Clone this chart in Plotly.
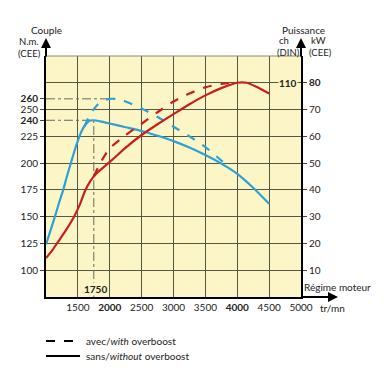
import numpy as np
import plotly.graph_objects as go

# ---- data ----
rpm_torque_without = [1000, 1070, 1140, 1200, 1270, 1330, 1390, 1450, 1500, 1560, 1620, 1680, 1750,
                      1850, 2000, 2250, 2500, 2750, 3000, 3250, 3500, 3750, 4000, 4250, 4500]
torque_without = [124, 137, 150, 162, 175, 188, 200, 212, 221, 230, 236, 239.5, 240,
                  239, 237, 233.5, 230, 225.5, 220.5, 214.5, 207.5, 199.5, 190, 177, 162]

rpm_torque_with = [1600, 1700, 1800, 1900, 2000, 2100, 2250, 2500, 2750, 3000, 3250, 3500, 3700, 3850]
torque_with = [234, 246, 254, 258.5, 260, 259.8, 257.5, 251, 243, 234, 225, 215, 205, 197]

rpm_power_without = [1000, 1100, 1200, 1300, 1440, 1530, 1610, 1700, 1800, 1900, 2050, 2250, 2500,
                     2750, 3000, 3250, 3500, 3750, 4000, 4150, 4300, 4500]
power_without = [14.5, 17.5, 21, 24.5, 30, 34.5, 39.5, 43.5, 46.3, 48.4, 51.5, 55.8, 60.5,
                 64.5, 68.3, 72, 75.3, 78, 80, 80, 78.5, 76]

rpm_power_with = [1750, 1850, 2000, 2250, 2500, 2750, 3000, 3250, 3500, 3750, 4000]
power_with = [45, 50, 55.5, 60.5, 64.7, 69, 73, 76, 78.3, 79.6, 80]

x_ticks = [1500, 2000, 2500, 3000, 3500, 4000, 4500, 5000]
x_bold = [2000, 4000]
torque_ticks = [100, 125, 150, 175, 200, 225, 240, 250, 260]
torque_bold = [240, 260]
power_ticks = [10, 20, 30, 40, 50, 60, 70, 80]
power_bold = [80]

BLUE = "#2ba1d8"
RED = "#c61f1f"
BG = "#fcf5c6"
GRID = "#55554a"
FONT = "Lato"

fig = go.Figure()

# reference lines (derived from data)
i_w = int(np.argmax(torque_with))
i_s = int(np.argmax(torque_without))
pk_rpm_w, pk_t_w = rpm_torque_with[i_w], torque_with[i_w]
pk_rpm_s, pk_t_s = rpm_torque_without[i_s], torque_without[i_s]
ref = dict(color="#6a6a60", width=1, dash="dashdot")
fig.add_trace(go.Scatter(x=[1000, pk_rpm_w], y=[pk_t_w, pk_t_w], mode="lines", line=ref, hoverinfo="skip"))
fig.add_trace(go.Scatter(x=[1000, pk_rpm_s], y=[pk_t_s, pk_t_s], mode="lines", line=ref, hoverinfo="skip"))
fig.add_trace(go.Scatter(x=[pk_rpm_s, pk_rpm_s], y=[75, pk_t_s], mode="lines", line=ref, hoverinfo="skip"))

# curves
sm = 0.6
fig.add_trace(go.Scatter(x=rpm_power_with, y=power_with, yaxis="y2", mode="lines",
                         line=dict(color=RED, width=2.2, dash="dash", shape="spline", smoothing=sm)))
fig.add_trace(go.Scatter(x=rpm_power_without, y=power_without, yaxis="y2", mode="lines",
                         line=dict(color=RED, width=2.2, shape="spline", smoothing=sm)))
fig.add_trace(go.Scatter(x=rpm_torque_with, y=torque_with, mode="lines",
                         line=dict(color=BLUE, width=2.2, dash="dash", shape="spline", smoothing=sm)))
fig.add_trace(go.Scatter(x=rpm_torque_without, y=torque_without, mode="lines",
                         line=dict(color=BLUE, width=2.2, shape="spline", smoothing=sm)))

def txt(v, bold):
    return f"<b>{v}</b>" if v in bold else str(v)

fig.update_layout(
    width=384, height=376,
    margin=dict(l=46, r=83, t=56, b=79),
    paper_bgcolor="white", plot_bgcolor=BG,
    showlegend=False,
    font=dict(family=FONT, size=10, color="#222"),
    xaxis=dict(range=[1000, 5000], tickvals=x_ticks, ticktext=[txt(v, x_bold) for v in x_ticks],
               showgrid=True, gridcolor=GRID, gridwidth=1, zeroline=False,
               showline=True, linecolor="black", linewidth=2, ticks="", ticklen=0,
               tickfont=dict(size=10, color="#222")),
    yaxis=dict(range=[75, 300], tickvals=torque_ticks, ticktext=[txt(v, torque_bold) for v in torque_ticks],
               showgrid=False, zeroline=False, showline=True, linecolor="black", linewidth=2,
               ticks="outside", ticklen=4, tickcolor="#444", tickwidth=1,
               tickfont=dict(size=10, color="#222")),
    yaxis2=dict(range=[0, 90], overlaying="y", side="right", tickvals=power_ticks,
                ticktext=[txt(v, power_bold) for v in power_ticks],
                showgrid=True, gridcolor=GRID, gridwidth=1, zeroline=False,
                showline=True, linecolor="black", linewidth=2,
                ticks="outside", ticklen=4, tickcolor="#444", tickwidth=1,
                tickfont=dict(size=10, color="#222")),
)

W, H = 255.0, 241.0
def px(xp):
    return (xp - 46) / W
def py(yp):
    return (297 - yp) / H

# top border
fig.add_shape(type="line", xref="paper", yref="paper", x0=0, x1=1, y0=1, y1=1,
              line=dict(color="#8a8a70", width=1))

anns = []
def ann(x, y, text, xanchor="center", size=10, bold=False, bg=None):
    d = dict(x=px(x), y=py(y), xref="paper", yref="paper", text=(f"<b>{text}</b>" if bold else text),
             showarrow=False, xanchor=xanchor, yanchor="middle", borderpad=0,
             font=dict(family=FONT, size=size, color="#222"))
    if bg:
        d["bgcolor"] = bg
    anns.append(d)

ann(46, 30, "Couple")
ann(29, 41.5, "N.m.", size=9.5)
ann(29, 53, "(CEE)", size=9.5)
ann(303, 30, "Puissance")
ann(284, 40.5, "ch", size=9.5)
ann(318, 40.5, "kW", size=9.5)
ann(288, 52, "(DIN)", size=9.5)
ann(320, 52, "(CEE)", size=9.5)
ann(95, 289, "1750", bold=True, bg=BG)
ann(288, 83, "110", bold=True, bg=BG)
ann(303, 287, "Régime moteur", xanchor="left")
ann(332, 308, "tr/mn")
ann(85, 341, "avec/<i>with</i> overboost", xanchor="left")
ann(85, 356, "sans/<i>without</i> overboost", xanchor="left")

# arrows
for tip in [(46, 38), (301, 38)]:
    anns.append(dict(x=px(tip[0]), y=py(tip[1]), xref="paper", yref="paper", showarrow=True,
                     ax=0, ay=20, arrowhead=2, arrowsize=1, arrowwidth=2, arrowcolor="black", text=""))
anns.append(dict(x=px(338), y=py(297), xref="paper", yref="paper", showarrow=True,
                 ax=-38, ay=0, arrowhead=2, arrowsize=1, arrowwidth=2, arrowcolor="black", text=""))
fig.update_layout(annotations=anns)

# legend lines
fig.add_shape(type="line", xref="paper", yref="paper", x0=px(46), x1=px(80), y0=py(341), y1=py(341),
              line=dict(color="black", width=2, dash="dash"))
fig.add_shape(type="line", xref="paper", yref="paper", x0=px(46), x1=px(80), y0=py(356), y1=py(356),
              line=dict(color="black", width=2))

fig.write_html("out.html", config={"displayModeBar": False},
               post_script="document.body.style.margin='0';")
